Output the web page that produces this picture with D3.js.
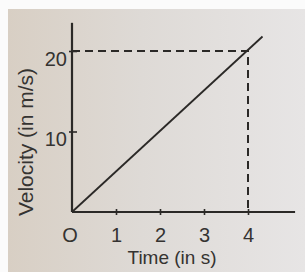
<!DOCTYPE html>
<html>
<head>
<meta charset="utf-8">
<script src="https://cdn.jsdelivr.net/npm/d3@7"></script>
<style>
  html, body { margin: 0; padding: 0; background: #fbfbfb; }
  text { font-family: "Liberation Sans", Arial, sans-serif; fill: #353331; }
</style>
</head>
<body>
<svg id="chart"></svg>
<script>
const width = 305;
const height = 272;

// data
const linePoints = [[0, 0], [4.33, 21.8]];
const markedPoint = [4, 20];
const xTicks = [1, 2, 3, 4];
const xTickLabels = ["1", "2", "3", "4"];
const yTicks = [10, 20];
const yTickLabels = ["10", "20"];
const xAxisEnd = 5.07;
const yAxisEnd = 23.5;

const svg = d3.select("#chart")
    .attr("width", width)
    .attr("height", height);

// photographed page background
const grad = svg.append("defs").append("linearGradient")
    .attr("id", "paper")
    .attr("x1", "0").attr("x2", "1").attr("y1", "0").attr("y2", "0");
grad.append("stop").attr("offset", "0").attr("stop-color", "#d8cfc4");
grad.append("stop").attr("offset", "0.45").attr("stop-color", "#dedad6");
grad.append("stop").attr("offset", "1").attr("stop-color", "#e7e5e5");

svg.append("rect")
    .attr("x", 8).attr("y", 9)
    .attr("width", width - 8).attr("height", height - 9)
    .attr("fill", "url(#paper)");

const x = d3.scaleLinear().domain([0, 4]).range([72, 248]);
const y = d3.scaleLinear().domain([0, 20]).range([212, 51]);

const ink = "#2b2927";

// axes lines
svg.append("line")
    .attr("x1", x(0)).attr("x2", x(xAxisEnd))
    .attr("y1", y(0)).attr("y2", y(0))
    .attr("stroke", ink).attr("stroke-width", 2.2);
svg.append("line")
    .attr("x1", x(0)).attr("x2", x(0))
    .attr("y1", y(0)).attr("y2", y(yAxisEnd))
    .attr("stroke", ink).attr("stroke-width", 2.2);

// x axis ticks + labels
const xAxis = svg.append("g")
    .attr("transform", `translate(0,${y(0)})`)
    .call(d3.axisBottom(x).tickValues(xTicks)
        .tickFormat((d, i) => xTickLabels[i])
        .tickSize(3).tickPadding(13));
xAxis.select(".domain").remove();
xAxis.selectAll(".tick line").attr("y1", -3).attr("stroke", ink).attr("stroke-width", 1.6);
xAxis.selectAll("text").style("font-size", "20px").attr("fill", "#353331");

svg.append("text")
    .attr("x", x(0) - 2)
    .attr("y", y(0) + 30)
    .attr("text-anchor", "middle")
    .style("font-size", "20px")
    .text("O");

// y axis ticks + labels
const yAxis = svg.append("g")
    .attr("transform", `translate(${x(0)},0)`)
    .call(d3.axisLeft(y).tickValues(yTicks)
        .tickFormat((d, i) => yTickLabels[i])
        .tickSize(3).tickPadding(2));
yAxis.select(".domain").remove();
yAxis.selectAll(".tick line").attr("x1", 5).attr("stroke", ink).attr("stroke-width", 1.6);
yAxis.selectAll("text").style("font-size", "20px").attr("dy", "0.72em").attr("fill", "#353331");

// dashed guide lines
svg.append("path")
    .attr("d", d3.line()([
        [x(0), y(markedPoint[1])],
        [x(markedPoint[0]), y(markedPoint[1])],
        [x(markedPoint[0]), y(0)]
    ]))
    .attr("fill", "none")
    .attr("stroke", ink)
    .attr("stroke-width", 2)
    .attr("stroke-dasharray", "8,5");

// velocity line
svg.append("path")
    .datum(linePoints)
    .attr("d", d3.line().x(d => x(d[0])).y(d => y(d[1])))
    .attr("fill", "none")
    .attr("stroke", ink)
    .attr("stroke-width", 1.8);

// axis titles
svg.append("text")
    .attr("transform", `translate(33,${142}) rotate(-90)`)
    .attr("text-anchor", "middle")
    .style("font-size", "21px")
    .text("Velocity (in m/s)");

svg.append("text")
    .attr("x", 172)
    .attr("y", 264)
    .attr("text-anchor", "middle")
    .style("font-size", "19px")
    .text("Time (in s)");
</script>
</body>
</html>
